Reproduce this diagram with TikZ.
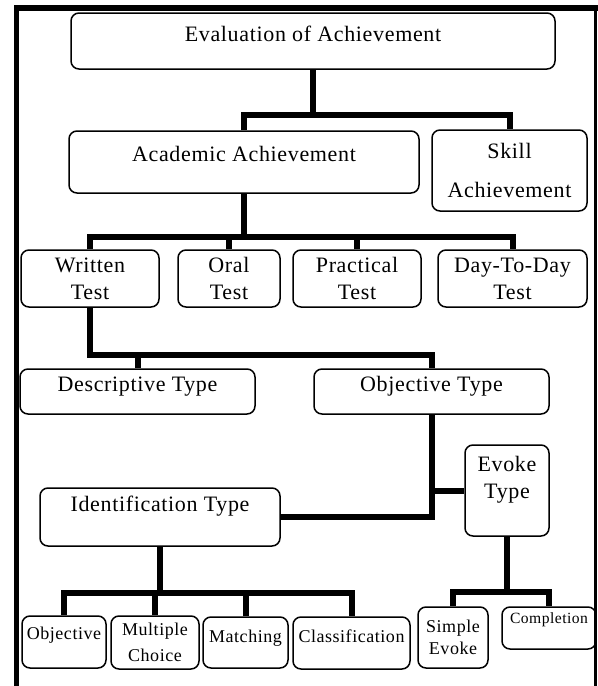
\documentclass[tikz,border=0pt]{standalone}
\usepackage{fontspec}
\setmainfont[LetterSpace=3]{Liberation Serif}
\begin{document}
\begin{tikzpicture}[x=0.5pt,y=-0.5pt,
        box/.style={draw=black,line width=0.75pt,rounded corners=4pt,inner sep=0pt,align=center,font=\fontsize{11}{13.5}\selectfont},
        small/.style={box,font=\fontsize{9}{11}\selectfont},
        dims/.style 2 args={minimum width=#1*0.5pt,minimum height=#2*0.5pt},
        lift/.style={text height=7.5pt,text depth=#1},
        slift/.style={text height=6.2pt,text depth=#1},
        link/.style={line width=3pt}]
        \useasboundingbox(0,0)rectangle(598,686);
        \draw[line width=2.6pt](16.5,686)--(16.5,8)--(598,8);
        \draw[line width=1.8pt](595.5,8)--(595.5,686);
        \node[box,dims={484}{56},lift=6.9pt] (eval) at (313,41) {Evaluation of Achievement};
        \node[box,dims={350}{62},lift=7.9pt] (acad) at (244,162) {Academic Achievement};
        \node[box,dims={155}{81}] (skill) at (509.5,170.5) {Skill\\[6pt]Achievement};
        \node[box,dims={138}{57}] (written) at (90,278.5) {Written\\Test};
        \node[box,dims={102}{57}] (oral) at (229,278.5) {Oral\\Test};
        \node[box,dims={128}{57}] (practical) at (357,278.5) {Practical\\Test};
        \node[box,dims={149}{57}] (daily) at (512.5,278.5) {Day-To-Day\\Test};
        \node[box,dims={235}{45},lift=7.4pt] (desc) at (137.5,391.5) {Descriptive Type};
        \node[box,dims={235}{45},lift=7.4pt] (objt) at (431.5,391.5) {Objective Type};
        \node[box,dims={240}{58},lift=12.9pt] (ident) at (160,517) {Identification Type};
        \node[box,dims={84}{91},lift=0pt] (evoke) at (507,490.5) {Evoke\\Type};
        \node[small,dims={84}{52},slift=8.8pt] (objb) at (64,642) {Objective};
        \node[small,dims={88}{53}] (multi) at (155,642.5) {Multiple\\[2pt]Choice};
        \node[small,dims={85}{51},slift=6.3pt] (match) at (245.5,642.5) {Matching};
        \node[small,dims={117}{52},slift=6.8pt] (class) at (351.5,643) {Classification};
        \node[small,dims={70}{61}] (simple) at (453,637.5) {Simple\\Evoke};
        \node[box,font=\fontsize{7.8}{9.5}\selectfont,dims={94}{42},text height=5.4pt,text depth=9.7pt] (compl) at (549,628) {Completion};
        % links
        \coordinate (b1) at (313,115);
        \coordinate (b2) at (244,237);
        \coordinate (b3) at (90,355);
        \coordinate (b4) at (160,593);
        \coordinate (b5) at (507,592);
        \draw[link](eval.south)--(b1);
        \draw[link](acad.north)--(acad.north|-b1)--(b1-|skill.north)--(skill.north);
        \draw[link](acad.south)--(b2);
        \draw[link](written.north)--(written.north|-b2)--(b2-|daily.north)--(daily.north);
        \draw[link](oral.north)--(oral.north|-b2);
        \draw[link](practical.north)--(practical.north|-b2);
        \draw[link](written.south)--(b3)--(b3-|objt.north)--(objt.north);
        \draw[link](desc.north)--(desc.north|-b3);
        \draw[link](objt.south)|-(ident.east);
        \draw[link](objt.south|-evoke.west)--(evoke.west);
        \draw[link](ident.south)--(b4);
        \draw[link](objb.north)--(objb.north|-b4)--(b4-|class.north)--(class.north);
        \draw[link](multi.north)--(multi.north|-b4);
        \draw[link](match.north)--(match.north|-b4);
        \draw[link](evoke.south)--(b5);
        \draw[link](simple.north)--(simple.north|-b5)--(b5-|compl.north)--(compl.north);
\end{tikzpicture}
\end{document}
